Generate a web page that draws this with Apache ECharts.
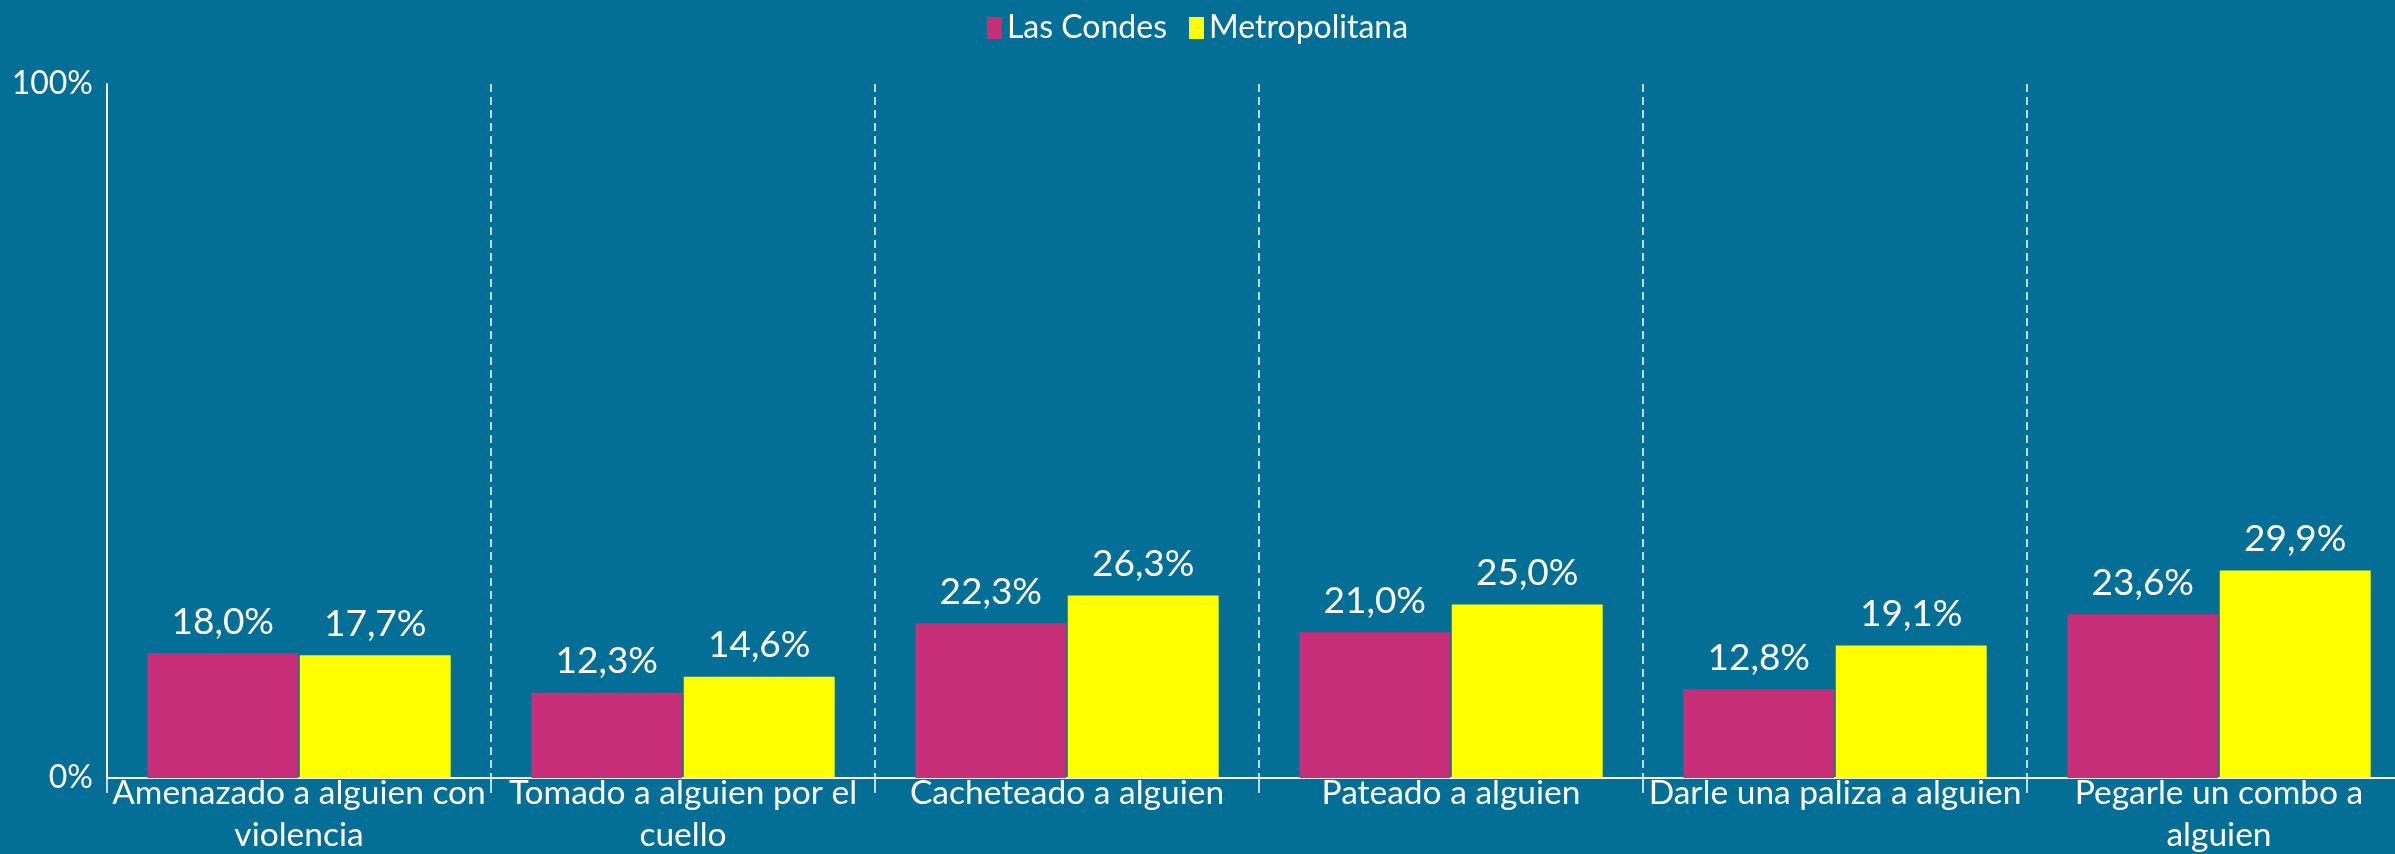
<!DOCTYPE html>
<html>
<head>
<meta charset="utf-8">
<script src="https://cdn.jsdelivr.net/npm/echarts@6/dist/echarts.min.js"></script>
<style>
html,body{margin:0;padding:0;background:#046F96;}
#c{width:2395px;height:854px;}
</style>
</head>
<body>
<div id="c"></div>
<script>
const categories = [
  'Amenazado a alguien con\nviolencia',
  'Tomado a alguien por el\ncuello',
  'Cacheteado a alguien',
  'Pateado a alguien',
  'Darle una paliza a alguien',
  'Pegarle un combo a\nalguien'
];
const lasCondes = [18.0, 12.3, 22.3, 21.0, 12.8, 23.6];
const metropolitana = [17.7, 14.6, 26.3, 25.0, 19.1, 29.9];
const seriesNames = ['Las Condes', 'Metropolitana'];
const yTicks = [0, 100];

const FONT = 'Lato';
const fmt = v => v.toFixed(1).replace('.', ',') + '%';

const chart = echarts.init(document.getElementById('c'), null, {renderer: 'canvas'});
chart.setOption({
  backgroundColor: '#046F96',
  animation: false,
  textStyle: {fontFamily: FONT, color: '#fff'},
  legend: {
    data: seriesNames,
    top: 7,
    left: 'center',
    itemWidth: 15,
    itemHeight: 22,
    itemGap: 22,
    icon: 'rect',
    textStyle: {color: '#fff', fontSize: 32, fontFamily: FONT}
  },
  grid: {left: 107, right: -16, top: 84, bottom: 76, containLabel: false, outerBoundsMode: 'none'},
  xAxis: {
    type: 'category',
    data: categories,
    axisLine: {lineStyle: {color: '#fff', width: 2}},
    axisTick: {show: true, length: 15, lineStyle: {color: '#fff', width: 1.5}},
    splitLine: {show: true, lineStyle: {color: '#fff', width: 1.5, type: [8, 5]}},
    axisLabel: {
      interval: 0, color: '#fff', fontSize: 33.5, fontFamily: FONT,
      margin: -6, lineHeight: 42
    }
  },
  yAxis: {
    type: 'value',
    min: yTicks[0],
    max: yTicks[1],
    interval: 100,
    axisLine: {show: true, lineStyle: {color: '#fff', width: 2}},
    axisTick: {show: false},
    splitLine: {show: false},
    axisLabel: {color: '#fff', fontSize: 32, fontFamily: FONT, margin: 14, formatter: v => v + '%'}
  },
  series: [
    {
      name: seriesNames[0], type: 'bar', data: lasCondes,
      barGap: '1%', barCategoryGap: '21%',
      itemStyle: {color: '#C72E78'},
      label: {show: true, position: 'top', distance: 13, color: '#fff', fontSize: 37, fontFamily: FONT, formatter: p => fmt(p.value)}
    },
    {
      name: seriesNames[1], type: 'bar', data: metropolitana,
      barGap: '1%', barCategoryGap: '21%',
      itemStyle: {color: '#FFFF00'},
      label: {show: true, position: 'top', distance: 13, color: '#fff', fontSize: 37, fontFamily: FONT, formatter: p => fmt(p.value)}
    }
  ]
});
</script>
</body>
</html>
